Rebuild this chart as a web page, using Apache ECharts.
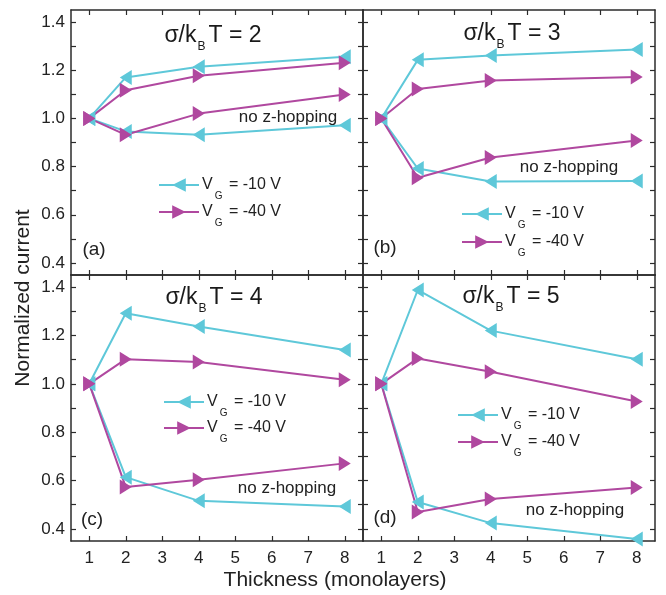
<!DOCTYPE html>
<html>
<head>
<meta charset="utf-8">
<script src="https://cdn.jsdelivr.net/npm/echarts@6/dist/echarts.min.js"></script>
<style>
  html, body { margin: 0; padding: 0; background: #fff; }
  #main { width: 666px; height: 595px; }
</style>
</head>
<body>
<div id="main"></div>
<script>
// thickness (monolayers)
var thickness = [1, 2, 4, 8];
// panel (a) sigma/kBT = 2
var aCyanHop = [1.0, 1.170, 1.214, 1.256];
var aMagHop = [1.0, 1.117, 1.177, 1.231];
var aMagNo = [1.0, 0.932, 1.020, 1.099];
var aCyanNo = [1.0, 0.946, 0.932, 0.972];
// panel (b) sigma/kBT = 3
var bCyanHop = [1.0, 1.243, 1.261, 1.286];
var bMagHop = [1.0, 1.122, 1.157, 1.172];
var bMagNo = [1.0, 0.754, 0.838, 0.908];
var bCyanNo = [1.0, 0.792, 0.738, 0.740];
// panel (c) sigma/kBT = 4
var cCyanHop = [1.0, 1.292, 1.237, 1.140];
var cMagHop = [1.0, 1.102, 1.090, 1.017];
var cMagNo = [1.0, 0.573, 0.603, 0.671];
var cCyanNo = [1.0, 0.614, 0.516, 0.493];
// panel (d) sigma/kBT = 5
var dCyanHop = [1.0, 1.388, 1.220, 1.102];
var dMagHop = [1.0, 1.105, 1.050, 0.927];
var dMagNo = [1.0, 0.470, 0.524, 0.571];
var dCyanNo = [1.0, 0.511, 0.424, 0.358];

var xTicks = [1, 2, 3, 4, 5, 6, 7, 8];
var yTicks = [0.4, 0.5, 0.6, 0.7, 0.8, 0.9, 1.0, 1.1, 1.2, 1.3, 1.4];
var yLabels = [0.4, 0.6, 0.8, 1.0, 1.2, 1.4];
var panelTitles = ['2', '3', '4', '5'];
var panelTags = ['(a)', '(b)', '(c)', '(d)'];
var nameCyan = 'VG = -10 V';
var nameMag = 'VG = -40 V';

var CYAN = '#5ec8d9';
var MAG = '#b0489f';
var FONT = 'Liberation Sans, Arial, sans-serif';
var AXIS = '#2b2b2b';

var panels = [
  { left: 71, top: 10, width: 292, height: 265, data: [aCyanHop, aMagHop, aMagNo, aCyanNo] },
  { left: 363, top: 10, width: 292, height: 265, data: [bCyanHop, bMagHop, bMagNo, bCyanNo] },
  { left: 71, top: 275, width: 292, height: 266, data: [cCyanHop, cMagHop, cMagNo, cCyanNo] },
  { left: 363, top: 275, width: 292, height: 266, data: [dCyanHop, dMagHop, dMagNo, dCyanNo] }
];

function pairs(ys) {
  var out = [];
  for (var i = 0; i < thickness.length; i++) out.push([thickness[i], ys[i]]);
  return out;
}

var grids = [], xAxes = [], yAxes = [], series = [];
for (var p = 0; p < panels.length; p++) {
  var pn = panels[p];
  grids.push({ left: pn.left, top: pn.top, width: pn.width, height: pn.height, show: false });
  var bottomRow = p >= 2, leftCol = p % 2 === 0;
  ['bottom', 'top'].forEach(function (pos) {
    xAxes.push({
      gridIndex: p, type: 'value', position: pos, min: 0.5, max: 8.5,
      axisLine: { show: true, onZero: false, lineStyle: { color: AXIS, width: 1.5 } },
      axisTick: { show: true, inside: true, length: 5, customValues: xTicks, lineStyle: { color: AXIS, width: 1.2 } },
      axisLabel: { show: pos === 'bottom' && bottomRow, customValues: xTicks, fontSize: 17, color: '#222', fontFamily: FONT, margin: 9 },
      splitLine: { show: false }
    });
  });
  ['left', 'right'].forEach(function (pos) {
    yAxes.push({
      gridIndex: p, type: 'value', position: pos, min: 0.35, max: 1.45,
      axisLine: { show: true, onZero: false, lineStyle: { color: AXIS, width: 1.5 } },
      axisTick: { show: true, inside: true, length: 5, customValues: yTicks, lineStyle: { color: AXIS, width: 1.2 } },
      axisLabel: {
        show: pos === 'left' && leftCol, customValues: yLabels, fontSize: 17, color: '#222', fontFamily: FONT, margin: 6,
        formatter: function (v) { return v.toFixed(1); }
      },
      splitLine: { show: false }
    });
  });
  var cols = [CYAN, MAG, MAG, CYAN];
  var names = [nameCyan, nameMag, nameMag, nameCyan];
  var order = [0, 3, 1, 2];
  order.forEach(function (k) {
    var isCyan = cols[k] === CYAN;
    series.push({
      type: 'line', name: names[k], xAxisIndex: 2 * p, yAxisIndex: 2 * p,
      data: pairs(pn.data[k]),
      symbol: 'triangle', symbolSize: [15, 12], symbolRotate: isCyan ? 90 : -90,
      showAllSymbol: true, clip: false,
      lineStyle: { color: cols[k], width: 2 },
      itemStyle: { color: cols[k] },
      emphasis: { disabled: true }, animation: false
    });
  });
}

var rich = {
  m: { fontSize: 16, fontFamily: FONT, color: '#222', lineHeight: 18 },
  s: { fontSize: 10, fontFamily: FONT, color: '#222', lineHeight: 12, padding: [22, 2, 0, 2] }
};
// legend rows: [left, centerY]
var legendRows = [
  [158, 186, nameCyan], [158, 213, nameMag],
  [461, 215, nameCyan], [461, 243, nameMag],
  [163, 403, nameCyan], [163, 429, nameMag],
  [457, 416, nameCyan], [457, 443, nameMag]
];
var legends = legendRows.map(function (r) {
  return {
    left: r[0], top: r[1] - 17, data: [r[2]], selectedMode: false,
    itemWidth: 40, itemHeight: 17, itemGap: 0, padding: 0,
    formatter: function (n) { return '{m|V}{s|G}{m|' + n.slice(2) + '}'; },
    textStyle: { rich: rich, padding: [0, 0, 0, -2] }
  };
});

var titlePos = [[213, 36], [512, 34], [214, 298], [511, 297]];
var tagPos = [[94, 250], [385, 248], [92, 520], [385, 518]];
var noHopPos = [[288, 117], [569, 167], [287, 488], [575, 510]];

var graphics = [];
for (var i = 0; i < 4; i++) {
  graphics.push({
    type: 'text', x: titlePos[i][0], y: titlePos[i][1], silent: true,
    style: {
      text: '{m|σ/k}{s|B}{m|T = ' + panelTitles[i] + '}',
      align: 'center', verticalAlign: 'middle', textAlign: 'center', textVerticalAlign: 'middle',
      rich: {
        m: { fontSize: 23, fontFamily: FONT, fill: '#1a1a1a', color: '#1a1a1a', lineHeight: 25 },
        s: { fontSize: 12, fontFamily: FONT, fill: '#1a1a1a', color: '#1a1a1a', lineHeight: 14, padding: [22, 3, 0, 1] }
      }
    }
  });
  graphics.push({
    type: 'text', x: tagPos[i][0], y: tagPos[i][1], silent: true,
    style: { text: panelTags[i], font: '19px ' + FONT, fill: '#222', align: 'center', verticalAlign: 'middle', textAlign: 'center', textVerticalAlign: 'middle' }
  });
  graphics.push({
    type: 'text', x: noHopPos[i][0], y: noHopPos[i][1], silent: true,
    style: { text: 'no z-hopping', font: '17px ' + FONT, fill: '#222', align: 'center', verticalAlign: 'middle', textAlign: 'center', textVerticalAlign: 'middle' }
  });
}
graphics.push({
  type: 'text', x: 23, y: 298, rotation: Math.PI / 2, silent: true,
  style: { text: 'Normalized current', font: '21px ' + FONT, fill: '#222', align: 'center', verticalAlign: 'middle', textAlign: 'center', textVerticalAlign: 'middle' }
});
graphics.push({
  type: 'text', x: 335, y: 580, silent: true,
  style: { text: 'Thickness (monolayers)', font: '21px ' + FONT, fill: '#222', align: 'center', verticalAlign: 'middle', textAlign: 'center', textVerticalAlign: 'middle' }
});

var chart = echarts.init(document.getElementById('main'), null, { renderer: 'canvas' });
chart.setOption({
  animation: false,
  backgroundColor: '#fff',
  grid: grids,
  xAxis: xAxes,
  yAxis: yAxes,
  legend: legends,
  series: series,
  graphic: graphics
});
</script>
</body>
</html>
